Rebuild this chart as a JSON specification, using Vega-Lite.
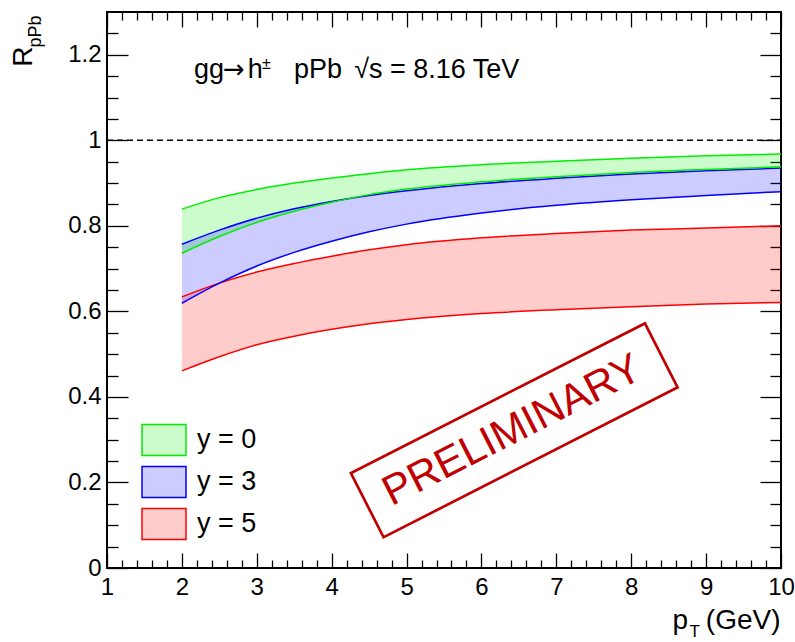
{
  "$schema": "https://vega.github.io/schema/vega-lite/v6.json",
  "width": 674,
  "height": 556,
  "autosize": {"type": "none"},
  "padding": {"left": 107, "top": 12, "right": 14, "bottom": 74},
  "background": "white",
  "config": {
    "font": "Liberation Sans",
    "view": {"stroke": "black", "strokeWidth": 2},
    "axis": {"grid": false, "domain": false, "labelColor": "black", "tickColor": "black", "titleColor": "black", "titleFontWeight": "normal", "titleFont": "Liberation Sans", "labelFont": "Liberation Sans", "tickWidth": 1.3},
    "text": {"font": "Liberation Sans"}
  },
  "datasets": {
    "bands": [
      {"pT": 2, "series": "y = 0", "lo": 0.736, "hi": 0.839},
      {"pT": 2.5, "series": "y = 0", "lo": 0.775, "hi": 0.866},
      {"pT": 3, "series": "y = 0", "lo": 0.808, "hi": 0.885},
      {"pT": 3.5, "series": "y = 0", "lo": 0.834, "hi": 0.900},
      {"pT": 4, "series": "y = 0", "lo": 0.855, "hi": 0.912},
      {"pT": 4.5, "series": "y = 0", "lo": 0.873, "hi": 0.922},
      {"pT": 5, "series": "y = 0", "lo": 0.886, "hi": 0.931},
      {"pT": 6, "series": "y = 0", "lo": 0.903, "hi": 0.943},
      {"pT": 7, "series": "y = 0", "lo": 0.915, "hi": 0.951},
      {"pT": 8, "series": "y = 0", "lo": 0.925, "hi": 0.958},
      {"pT": 9, "series": "y = 0", "lo": 0.932, "hi": 0.964},
      {"pT": 10, "series": "y = 0", "lo": 0.938, "hi": 0.968},
      {"pT": 2, "series": "y = 3", "lo": 0.619, "hi": 0.757},
      {"pT": 2.5, "series": "y = 3", "lo": 0.666, "hi": 0.790},
      {"pT": 3, "series": "y = 3", "lo": 0.706, "hi": 0.818},
      {"pT": 3.5, "series": "y = 3", "lo": 0.738, "hi": 0.840},
      {"pT": 4, "series": "y = 3", "lo": 0.764, "hi": 0.857},
      {"pT": 4.5, "series": "y = 3", "lo": 0.786, "hi": 0.871},
      {"pT": 5, "series": "y = 3", "lo": 0.804, "hi": 0.882},
      {"pT": 6, "series": "y = 3", "lo": 0.830, "hi": 0.899},
      {"pT": 7, "series": "y = 3", "lo": 0.848, "hi": 0.911},
      {"pT": 8, "series": "y = 3", "lo": 0.861, "hi": 0.921},
      {"pT": 9, "series": "y = 3", "lo": 0.871, "hi": 0.929},
      {"pT": 10, "series": "y = 3", "lo": 0.880, "hi": 0.935},
      {"pT": 2, "series": "y = 5", "lo": 0.461, "hi": 0.634},
      {"pT": 2.5, "series": "y = 5", "lo": 0.494, "hi": 0.666},
      {"pT": 3, "series": "y = 5", "lo": 0.522, "hi": 0.692},
      {"pT": 3.5, "series": "y = 5", "lo": 0.542, "hi": 0.712},
      {"pT": 4, "series": "y = 5", "lo": 0.558, "hi": 0.729},
      {"pT": 4.5, "series": "y = 5", "lo": 0.571, "hi": 0.744},
      {"pT": 5, "series": "y = 5", "lo": 0.581, "hi": 0.756},
      {"pT": 6, "series": "y = 5", "lo": 0.595, "hi": 0.772},
      {"pT": 7, "series": "y = 5", "lo": 0.604, "hi": 0.782},
      {"pT": 8, "series": "y = 5", "lo": 0.611, "hi": 0.790},
      {"pT": 9, "series": "y = 5", "lo": 0.617, "hi": 0.795},
      {"pT": 10, "series": "y = 5", "lo": 0.621, "hi": 0.800}
    ],
    "one": [{}]
  },
  "resolve": {"axis": {"x": "independent", "y": "independent"}},
  "layer": [
    {
      "data": {"name": "bands"},
      "mark": {"type": "area", "fillOpacity": 0.2, "interpolate": "monotone"},
      "encoding": {
        "x": {"field": "pT", "type": "quantitative", "scale": {"domain": [1, 10], "nice": false, "zero": false},
          "axis": {"orient": "bottom", "values": [1,2,3,4,5,6,7,8,9,10], "ticks": false, "labelFontSize": 24, "labelPadding": 7, "labelFlush": false, "labelOverlap": false,
            "title": "p", "titleFontSize": 28, "titleX": 565, "titleY": 60, "titleAlign": "left", "titleBaseline": "alphabetic", "titleAnchor": null}},
        "y": {"field": "lo", "type": "quantitative", "scale": {"domain": [0, 1.3], "nice": false, "zero": false},
          "axis": {"orient": "left", "values": [0,0.2,0.4,0.6,0.8,1,1.2], "format": "~g", "ticks": false, "labelFontSize": 24, "labelPadding": 6, "labelFlush": false, "labelOverlap": false,
            "title": "R", "titleFontSize": 28, "titleAngle": 270, "titleX": -76, "titleY": 34, "titleAlign": "right", "titleBaseline": "alphabetic", "titleAnchor": null}},
        "y2": {"field": "hi"},
        "color": {"field": "series", "type": "nominal",
          "scale": {"domain": ["y = 0", "y = 3", "y = 5"], "range": ["#00ee00", "#0000ff", "#ff0000"]},
          "legend": {"orient": "none", "legendX": 34, "legendY": 405, "title": null, "padding": 0, "rowPadding": 0,
            "symbolType": "M-1,-0.705L1,-0.705L1,0.705L-1,0.705Z", "symbolSize": 1936, "symbolStrokeWidth": 1.5,
            "labelFontSize": 27, "labelFont": "Liberation Sans", "labelColor": "black", "labelOffset": 10, "labelLimit": 200,
            "encode": {"symbols": {"update": {"fillOpacity": {"value": 0.2}, "stroke": {"scale": "color", "field": "value"}, "strokeWidth": {"value": 1.5}, "opacity": {"value": 1}}}}}
        }
      }
    },
    {
      "data": {"name": "bands"},
      "mark": {"type": "line", "strokeWidth": 1.5, "interpolate": "monotone"},
      "encoding": {
        "x": {"field": "pT", "type": "quantitative",
          "axis": {"orient": "bottom", "values": [1,2,3,4,5,6,7,8,9,10], "labels": false, "tickSize": -15,
            "title": "T", "titleFontSize": 17, "titleX": 582, "titleY": 68, "titleAlign": "left", "titleBaseline": "alphabetic", "titleAnchor": null}},
        "y": {"field": "hi", "type": "quantitative",
          "axis": {"orient": "left", "values": [0,0.2,0.4,0.6,0.8,1,1.2], "labels": false, "tickSize": -21,
            "title": "pPb", "titleFontSize": 18, "titleAngle": 270, "titleX": -67, "titleY": 35, "titleAlign": "left", "titleBaseline": "alphabetic", "titleAnchor": null}},
        "stroke": {"field": "series", "type": "nominal",
          "scale": {"domain": ["y = 0", "y = 3", "y = 5"], "range": ["#00ee00", "#0000ff", "#ff0000"]}, "legend": null}
      }
    },
    {
      "data": {"name": "bands"},
      "mark": {"type": "line", "strokeWidth": 1.5, "interpolate": "monotone"},
      "encoding": {
        "x": {"field": "pT", "type": "quantitative",
          "axis": {"orient": "bottom", "values": [1.2,1.4,1.6,1.8,2.2,2.4,2.6,2.8,3.2,3.4,3.6,3.8,4.2,4.4,4.6,4.8,5.2,5.4,5.6,5.8,6.2,6.4,6.6,6.8,7.2,7.4,7.6,7.8,8.2,8.4,8.6,8.8,9.2,9.4,9.6,9.8], "labels": false, "tickSize": -8,
            "title": "(GeV)", "titleFontSize": 28, "titleX": 673, "titleY": 60, "titleAlign": "right", "titleBaseline": "alphabetic", "titleAnchor": null}},
        "y": {"field": "lo", "type": "quantitative",
          "axis": {"orient": "left", "values": [0.05,0.1,0.15,0.25,0.3,0.35,0.45,0.5,0.55,0.65,0.7,0.75,0.85,0.9,0.95,1.05,1.1,1.15,1.25], "labels": false, "tickSize": -11, "title": null}},
        "stroke": {"field": "series", "type": "nominal", "legend": null}
      }
    },
    {
      "data": {"name": "one"},
      "mark": {"type": "rule", "strokeDash": [6, 4], "strokeWidth": 1.5, "color": "black"},
      "encoding": {
        "x": {"datum": 1, "type": "quantitative",
          "axis": {"orient": "top", "values": [1,2,3,4,5,6,7,8,9,10], "labels": false, "tickSize": -15, "title": null}},
        "x2": {"datum": 10},
        "y": {"datum": 1, "type": "quantitative",
          "axis": {"orient": "right", "values": [0,0.2,0.4,0.6,0.8,1,1.2], "labels": false, "tickSize": -21, "title": null}}
      }
    },
    {
      "data": {"name": "one"},
      "mark": {"type": "text", "text": "gg", "fontSize": 27, "align": "left", "baseline": "alphabetic", "color": "black"},
      "encoding": {
        "x": {"datum": 2.162, "type": "quantitative",
          "axis": {"orient": "top", "values": [1.2,1.4,1.6,1.8,2.2,2.4,2.6,2.8,3.2,3.4,3.6,3.8,4.2,4.4,4.6,4.8,5.2,5.4,5.6,5.8,6.2,6.4,6.6,6.8,7.2,7.4,7.6,7.8,8.2,8.4,8.6,8.8,9.2,9.4,9.6,9.8], "labels": false, "tickSize": -8, "title": null}},
        "y": {"datum": 1.145, "type": "quantitative",
          "axis": {"orient": "right", "values": [0.05,0.1,0.15,0.25,0.3,0.35,0.45,0.5,0.55,0.65,0.7,0.75,0.85,0.9,0.95,1.05,1.1,1.15,1.25], "labels": false, "tickSize": -11, "title": null}}
      }
    },
    {
      "data": {"name": "one"},
      "mark": {"type": "text", "text": "→", "font": "DejaVu Sans", "fontSize": 26, "align": "left", "baseline": "alphabetic", "color": "black"},
      "encoding": {
        "x": {"datum": 2.55, "type": "quantitative", "axis": null},
        "y": {"datum": 1.145, "type": "quantitative", "axis": null}
      }
    },
    {
      "data": {"name": "one"},
      "mark": {"type": "text", "text": "h", "fontSize": 27, "align": "left", "baseline": "alphabetic", "color": "black"},
      "encoding": {
        "x": {"datum": 2.88, "type": "quantitative", "axis": null},
        "y": {"datum": 1.145, "type": "quantitative", "axis": null}
      }
    },
    {
      "data": {"name": "one"},
      "mark": {"type": "text", "text": "±", "fontSize": 16, "align": "left", "baseline": "alphabetic", "color": "black"},
      "encoding": {
        "x": {"datum": 3.07, "type": "quantitative", "axis": null},
        "y": {"datum": 1.166, "type": "quantitative", "axis": null}
      }
    },
    {
      "data": {"name": "one"},
      "mark": {"type": "text", "text": "pPb", "fontSize": 27, "align": "left", "baseline": "alphabetic", "color": "black"},
      "encoding": {
        "x": {"datum": 3.497, "type": "quantitative", "axis": null},
        "y": {"datum": 1.145, "type": "quantitative", "axis": null}
      }
    },
    {
      "data": {"name": "one"},
      "mark": {"type": "text", "text": "√s = 8.16 TeV", "fontSize": 27, "align": "left", "baseline": "alphabetic", "color": "black"},
      "encoding": {
        "x": {"datum": 4.3, "type": "quantitative", "axis": null},
        "y": {"datum": 1.145, "type": "quantitative", "axis": null}
      }
    },
    {
      "data": {"name": "one"},
      "mark": {"type": "text", "text": "PRELIMINARY", "fontSize": 42, "align": "center", "baseline": "middle", "angle": 333, "color": "#c00000"},
      "encoding": {
        "x": {"datum": 6.41, "type": "quantitative", "axis": null},
        "y": {"datum": 0.322, "type": "quantitative", "axis": null}
      }
    },
    {
      "data": {"name": "one"},
      "mark": {"type": "point", "shape": "M-1,-0.218L1,-0.218L1,0.218L-1,0.218Z", "size": 108900, "filled": false, "stroke": "#c00000", "strokeWidth": 2.7, "opacity": 1, "angle": 333},
      "encoding": {
        "x": {"datum": 6.438, "type": "quantitative", "axis": null},
        "y": {"datum": 0.322, "type": "quantitative", "axis": null}
      }
    }
  ]
}
